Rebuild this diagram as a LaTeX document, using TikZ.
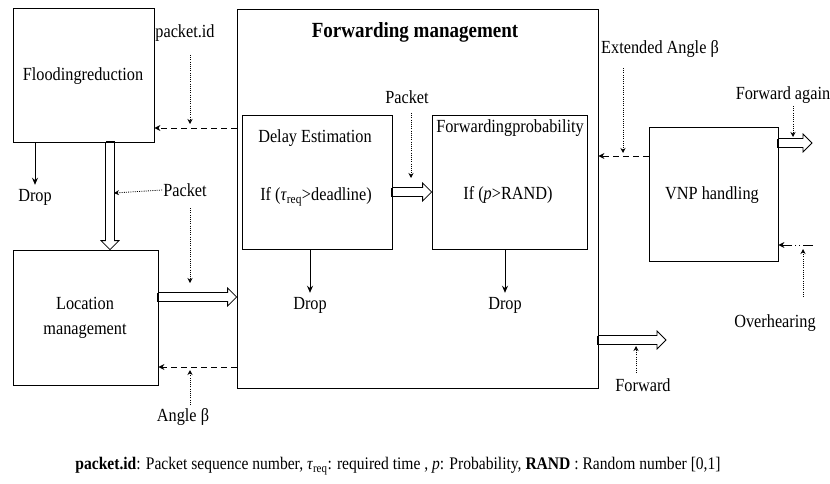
\documentclass[tikz,border=0pt]{standalone}
\usepackage{fontspec}
\setmainfont{Liberation Serif}[FakeStretch=0.88]
\usetikzlibrary{positioning}
\usetikzlibrary{arrows.meta}
\usetikzlibrary{calc}

\newcommand\fatarrow[2]{%
  \draw[line width=0.8pt, line join=miter] let \p1=(#1), \p2=(#2),
    \n1={atan2(\y2-\y1,\x2-\x1)}, \n2={veclen(\x2-\x1,\y2-\y1)} in
    [shift={(\p1)}, rotate=\n1]
    (0pt,4.5pt) -- ({\n2*1pt-9pt},4.5pt) -- ({\n2*1pt-9pt},9pt) -- ({\n2*1pt},0pt)
    -- ({\n2*1pt-9pt},-9pt) -- ({\n2*1pt-9pt},-4.5pt) -- (0pt,-4.5pt);
  \draw[line width=2pt] let \p1=(#1), \p2=(#2), \n1={atan2(\y2-\y1,\x2-\x1)} in
    [shift={(\p1)}, rotate=\n1] (0pt,4.5pt) -- (0pt,-4.5pt);
}

\begin{document}
\begin{tikzpicture}[
x=1pt, y=-1pt,
font=\fontsize{18.5}{20}\selectfont,
bx/.style={draw, line width=0.8pt, inner sep=0pt},
tx/.style={inner sep=1pt},
dsharr/.style={draw, line width=1pt, dash pattern=on 6pt off 4pt, -{Stealth[length=6pt,width=6pt]}},
dotarr/.style={draw, line width=0.8pt, dash pattern=on 1pt off 1.2pt, -{Stealth[length=5pt,width=5pt]}},
droparr/.style={draw, line width=1pt, -{Stealth[length=7pt,width=6pt]}}
]
\useasboundingbox (0,0) rectangle (830,483);

\tikzstyle{hd} = [tx, font=\fontsize{21.6}{23}\selectfont\bfseries]

% boxes
\node[bx, minimum width=141pt, minimum height=134pt] (flood) at (83.5,75) {};
\node[bx, minimum width=361pt, minimum height=379pt] (fm) at (417.5,198.5) {};
\node[bx, minimum width=150pt, minimum height=134pt] (delay) at (317,182) {};
\node[bx, minimum width=155pt, minimum height=134pt] (fprob) at (509.5,182) {};
\node[bx, minimum width=129pt, minimum height=134pt] (vnp) at (713.5,194) {};
\node[bx, minimum width=145pt, minimum height=135pt] (loc) at (85.5,317.5) {};

% texts in boxes
\node[tx] (floodt) at (83,76) {Floodingreduction};
\node[hd] (fmt) at (415,32) {Forwarding management};
\node[tx] (delayt) at (315,138) {Delay Estimation};
\node[tx] (delayc) at (316,197) {If (\textit{τ}\textsubscript{req}>deadline)};
\node[tx] (fprobt) at (510,128) {Forwardingprobability};
\node[tx] (fprobc) at (508,195) {If (\textit{p}>RAND)};
\node[tx] (vnpt) at (712,195) {VNP handling};
\node[tx] (loct1) at (85,303) {Location};
\node[tx] (loct2) at (85,331) {management};

% labels
\node[tx] (pkid) at (185,33) {packet.id};
\node[tx] (drop1) at (35,197) {Drop};
\node[tx] (pk1) at (185,190) {Packet};
\node[tx] (angb) at (183,417) {Angle β};
\node[tx] (pk2) at (407,97) {Packet};
\node[tx] (drop2) at (310,305) {Drop};
\node[tx] (drop3) at (505,305) {Drop};
\node[tx] (fwd) at (643,385) {Forward};
\node[tx] (extb) at (660,49) {Extended Angle β};
\node[tx] (fwda) at (783,95) {Forward again};
\node[tx] (ovh) at (775,323) {Overhearing};

% free ends
\coordinate (c1) at (190,124);
\coordinate (c2) at (114,193);
\coordinate (c3) at (190,283);
\coordinate (c4) at (190,370);
\coordinate (c5) at (411,178);
\coordinate (c6) at (636,346);
\coordinate (c7) at (623,153);
\coordinate (c8) at (793,137);
\coordinate (c9) at (803,249);
\coordinate (ffwd) at (666,340);
\coordinate (ffwda) at (812,143);
\coordinate (fovh) at (813,245);

% flows
\draw[dsharr] (fm.west |- 0,128) -- (flood.east |- 0,128);
\draw[dsharr] (fm.west |- 0,367) -- (loc.east |- 0,367);
\draw[dsharr] (vnp.west |- 0,156) -- (fm.east |- 0,156);
\draw[line width=1pt, dash pattern=on 10pt off 3pt on 1pt off 3pt on 1pt off 3pt,
  -{Stealth[length=6pt,width=6pt]}] (fovh) -- (vnp.east |- fovh);

\fatarrow{flood.south -| 110,0}{loc.north -| 110,0}
\fatarrow{loc.east |- 0,297}{fm.west |- 0,297}
\fatarrow{delay.east |- 0,192}{fprob.west |- 0,192}
\fatarrow{fm.east |- ffwd}{ffwd}
\fatarrow{vnp.east |- ffwda}{ffwda}

\draw[droparr] (flood.south -| drop1) -- ([yshift=3pt]drop1.north);
\draw[droparr] (delay.south -| drop2) -- ([yshift=3pt]drop2.north);
\draw[droparr] (fprob.south -| drop3) -- ([yshift=3pt]drop3.north);

\draw[dotarr] (190,55) -- (c1);
\draw[dotarr] (pk1.west) -- (c2);
\draw[dotarr] (190,208) -- (c3);
\draw[dotarr] (190,405) -- (c4);
\draw[dotarr] (411,113) -- (c5);
\draw[dotarr] (636,373) -- (c6);
\draw[dotarr] (623,68) -- (c7);
\draw[dotarr] (793,106) -- (c8);
\draw[dotarr] (803,297) -- (c9);

% caption
\node[tx, font=\fontsize{17.7}{19}\selectfont] (cap) at (398,466) {\textbf{packet.id}: Packet sequence number, \textit{τ}\textsubscript{req}: required time , \textit{p}: Probability,  \textbf{RAND} : Random number  [0,1]};
\end{tikzpicture}
\end{document}
